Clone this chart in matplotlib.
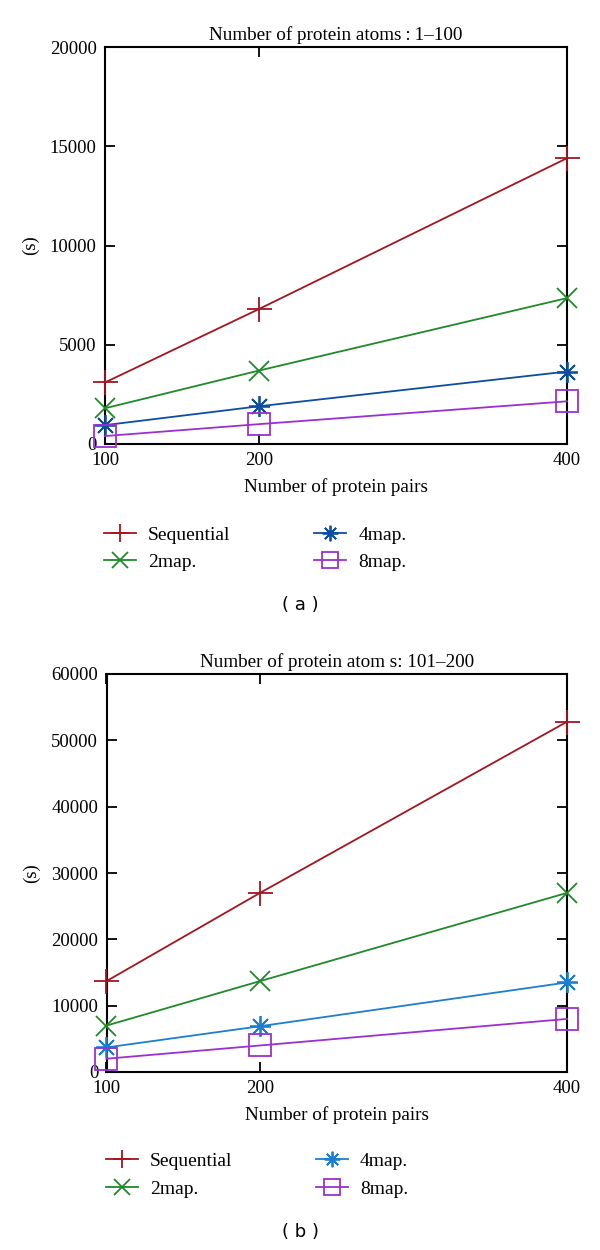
import matplotlib
matplotlib.use("Agg")
import matplotlib.pyplot as plt

plt.rcParams['font.family'] = ['Liberation Serif', 'DejaVu Serif']

pairs = [100, 200, 400]
labels = ["Sequential", "2map.", "4map.", "8map."]

# panel (a): protein atoms 1-100
seq_a = [3100, 6800, 14400]
map2_a = [1800, 3700, 7350]
map4_a = [950, 1900, 3650]
map8_a = [400, 1000, 2150]

# panel (b): protein atoms 101-200
seq_b = [13700, 27000, 52800]
map2_b = [7000, 13700, 27000]
map4_b = [3700, 6900, 13500]
map8_b = [2000, 4000, 8000]

yticks_a = [0, 5000, 10000, 15000, 20000]
yticks_b = [0, 10000, 20000, 30000, 40000, 50000, 60000]

markers = ['+', 'x', (8, 2, 0), 's']
msizes = [18, 15, 15, 16]


def panel(ax, series, colors, title, yticks, leg_y):
	for vals, lab, col, mk, ms in zip(series, labels, colors, markers, msizes):
		ax.plot(pairs, vals, color=col, lw=1.3, marker=mk, ms=ms, mew=1.3,
			mfc='none', label=lab, clip_on=False, zorder=3)
	ax.set_xlim(100, 400)
	ax.set_ylim(yticks[0], yticks[-1])
	ax.set_xticks(pairs)
	ax.set_yticks(yticks)
	ax.tick_params(direction='in', length=7, width=1.3, top=True, right=True,
		labelsize=13.5, pad=6)
	for s in ax.spines.values():
		s.set_linewidth(1.5)
	ax.set_title(title, fontsize=13.8, pad=5)
	ax.set_xlabel("Number of protein pairs", fontsize=13.8, labelpad=6)
	ax.set_ylabel("(s)", fontsize=13.5, labelpad=8)
	ax.legend(loc='center left', bbox_to_anchor=(-0.002, leg_y), ncol=2,
		frameon=False, fontsize=14, handlelength=1.65, handletextpad=0.62,
		columnspacing=4.3, labelspacing=0.5, markerscale=0.75,
		borderpad=0, borderaxespad=0)


fig = plt.figure(figsize=(6, 12.5), dpi=100)
ax1 = fig.add_axes([0.175, 0.6448, 0.770, 0.3176])
ax2 = fig.add_axes([0.1775, 0.1424, 0.7675, 0.3184])

panel(ax1, [seq_a, map2_a, map4_a, map8_a],
	['#a3151f', '#1f8a2a', '#0d4ea0', '#9b30d0'],
	"Number of protein atoms\u2009:\u20091\u2013100", yticks_a, -0.263)
panel(ax2, [seq_b, map2_b, map4_b, map8_b],
	['#a3151f', '#1f8a2a', '#1b7ed0', '#9b30d0'],
	"Number of protein atom s: 101\u2013200", yticks_b, -0.259)

fig.text(0.5, 1 - 605 / 1250, "( a )", ha='center', va='center',
	fontsize=13, family='DejaVu Sans')
fig.text(0.5, 1 - 1232 / 1250, "( b )", ha='center', va='center',
	fontsize=13, family='DejaVu Sans')

fig.savefig("out.png", dpi=100)
